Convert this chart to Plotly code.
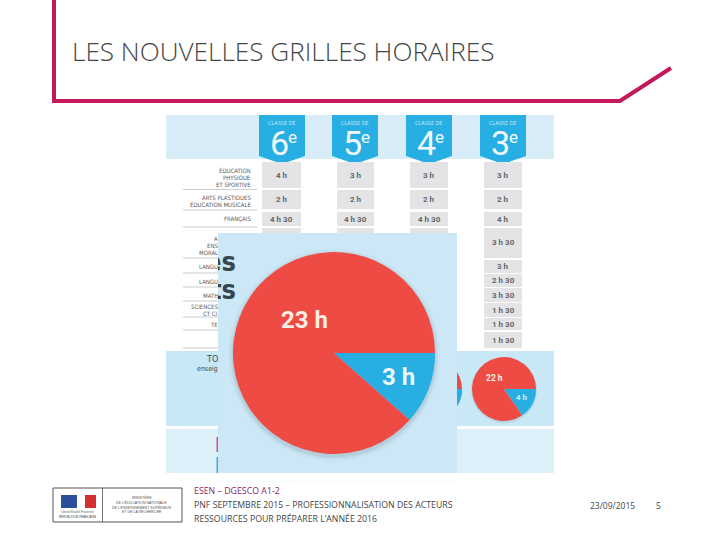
import math
import plotly.graph_objects as go

title = "LES NOUVELLES GRILLES HORAIRES"
classes = ["6", "5", "4", "3"]
main_labels = ["3 h", "23 h"]
main_values = [3, 23]
third_values = [4, 22]
small_labels = ["4 h", "22 h"]
small_values = [4, 22]
row_1 = ["4 h", "3 h", "3 h", "3 h"]
row_2 = ["2 h", "2 h", "2 h", "2 h"]
row_3 = ["4 h 30", "4 h 30", "4 h 30", "4 h"]
col_3e = ["3 h 30", "3 h", "2 h 30", "3 h 30", "1 h 30", "1 h 30", "1 h 30"]
clipped_words = ["es", "ts"]
footer_1 = "ESEN – DGESCO A1-2"
footer_2 = "PNF SEPTEMBRE 2015 – PROFESSIONNALISATION DES ACTEURS"
footer_3 = "RESSOURCES POUR PRÉPARER L’ANNÉE 2016"
footer_date = "23/09/2015"
footer_page = "5"

RED = "#ee4b45"
BLUE = "#27aee2"
PINK = "#c4185c"
PANEL = "#cce8f6"
GREY = "#e4e4e6"
COND = "DejaVu Sans Condensed"
ROB = "Roboto"


def X(v):
    return v / 720


def Y(v):
    return 1 - v / 540


shapes = []
ann = []


def rect(x0, y0, x1, y1, fill, line=None, w=1):
    shapes.append(dict(type="rect", xref="paper", yref="paper", x0=X(x0), x1=X(x1), y0=Y(y0), y1=Y(y1),
                       fillcolor=fill, line=dict(color=line or fill, width=w if line else 0), layer="below"))


def seg(pts, color, w, fill=None):
    p = "M" + " L".join(f"{X(a):.5f},{Y(b):.5f}" for a, b in pts)
    if fill:
        p += " Z"
    shapes.append(dict(type="path", xref="paper", yref="paper", path=p, layer="below",
                       fillcolor=fill or "rgba(0,0,0,0)", line=dict(color=color, width=w)))


def circle(cx, cy, r, fill, op=1):
    shapes.append(dict(type="circle", xref="paper", yref="paper", x0=X(cx - r), x1=X(cx + r), y0=Y(cy + r), y1=Y(cy - r),
                       fillcolor=fill, opacity=op, line=dict(width=0), layer="below"))


def text(x, y, s, size, color="#555b60", anchor="center", family=COND, bold=False, height=None):
    if bold:
        s = f"<b>{s}</b>"
    a = dict(xref="paper", yref="paper", x=X(x), y=Y(y), text=s, showarrow=False, xanchor=anchor, yanchor="middle",
             align=anchor, borderpad=0, borderwidth=0, font=dict(size=size, color=color, family=family))
    if height:
        a["height"] = height
    ann.append(a)


# frame
seg([(54, 0), (54, 101), (620, 101), (671, 68)], PINK, 4)
text(72, 51, title, 26.15, "#454545", "left", "Open Sans Light, Open Sans")

# infographic background
rect(166, 115, 554, 159, "#d8edf8")
rect(166, 351, 554, 426, "#c9e8f6")
rect(166, 429, 554, 473, "#ddf0fa")

badge_x = [259, 332, 406, 480]
cell_x = [(262, 301), (337, 374), (410, 448), (484, 522)]
for i, x0 in enumerate(badge_x):
    seg([(x0, 115), (x0 + 46, 115), (x0 + 46, 156), (x0 + 23, 164), (x0, 156)], BLUE, 0, BLUE)
    text(x0 + 23, 123, "CLASSE DE", 5.5, "#cdeaf7", height=6)
    text(x0 + 20, 143, classes[i], 34, "#f2fafd", family=ROB, height=26)
    text(x0 + 33.5, 136.5, "e", 17, "#f2fafd", family=ROB, height=12)

rows = [(162, 188, row_1), (190, 209, row_2), (212, 226, row_3)]
for y0, y1, vals in rows:
    for (a, b), v in zip(cell_x, vals):
        rect(a, y0, b, y1, GREY)
        text((a + b) / 2, (y0 + y1) / 2, v, 8, "#63676b", family=ROB, bold=True)
for a, b in cell_x[:3]:
    rect(a, 228, b, 240, GREY)
col_y = [(228, 258), (260, 273), (274, 287), (288, 302), (303, 317), (318, 330), (332, 348)]
for (y0, y1), v in zip(col_y, col_3e):
    rect(cell_x[3][0], y0, cell_x[3][1], y1, GREY)
    text(503, (y0 + y1) / 2, v, 8, "#63676b", family=ROB, bold=True)

for ly in [189.5, 210, 227, 258, 273, 287, 301, 317, 330, 348]:
    rect(183, ly - 0.4, 257, ly + 0.4, "#c9cbce")

text(251, 169.5, "ÉDUCATION", 6, anchor="right", height=6)
text(251, 176.5, "PHYSIQUE", 6, anchor="right", height=6)
text(251, 183.5, "ET SPORTIVE", 6, anchor="right", height=6)
text(251, 197, "ARTS PLASTIQUES", 6, anchor="right", height=6)
text(251, 204, "ÉDUCATION MUSICALE", 6, anchor="right", height=6)
text(251, 219, "FRANÇAIS", 6, anchor="right")

text(218, 238, "A", 6, anchor="right", height=6)
text(218, 245, "ENS", 6, anchor="right", height=6)
text(218, 252, "MORAL", 6, anchor="right", height=6)
text(218, 266, "LANGU", 6, anchor="right")
text(218, 281, "LANGU", 6, anchor="right")
text(218, 295, "MATH", 6, anchor="right")
text(218, 306, "SCIENCES", 6, anchor="right", height=6)
text(218, 313, "CT CI", 6, anchor="right", height=6)
text(218, 324, "TE", 6, anchor="right")
text(218, 358, "TO", 9, "#3f4a50", anchor="right", height=9)
text(218, 368, "enseig", 7, "#3f4a50", anchor="right", height=9)

# third pie: only its right edge shows past the panel
cx3, cy3, r3 = 430, 389, 32
circle(cx3, cy3, r3, RED)
a3 = third_values[0] / sum(third_values) * 2 * math.pi
n3 = 24
seg([(cx3, cy3)] + [(cx3 + r3 * math.cos(a3 * k / n3), cy3 + r3 * math.sin(a3 * k / n3)) for k in range(n3 + 1)], BLUE, 0, BLUE)

rect(216.5, 437, 218, 452, "#d9527f")
rect(216.5, 457, 218, 473, "#35b3dc")

# front panel
rect(218, 233, 457, 473, PANEL)
for d, op in [(106, 0.05), (104, 0.08), (102.5, 0.12)]:
    circle(334, 355, d, "#6f7f8a", op)
circle(504, 390, 33, "#7a8a95", 0.2)

text(304, 320, main_labels[1], 24, "#fdeee6", family=ROB, bold=True)
text(398, 377, main_labels[0], 24, "#eaf8fc", family=ROB, bold=True)
text(494, 378, small_labels[1], 8.5, "#fdeee6", family=ROB, bold=True)
text(522, 397, small_labels[0], 8, "#d8f1fa", family=ROB, bold=True)

# footer
rect(217, 481.7, 456, 482.3, "#eceff1")
rect(53, 488, 182, 522, "#ffffff", "#555555", 1)
rect(102, 488, 102.8, 522, "#555555")
rect(61, 495, 77, 508, "#2a4f9c")
rect(85, 495, 96, 508, "#d3302f")
text(77, 511, "Liberté Égalité Fraternité", 3, "#666666", family="Liberation Sans", height=4)
text(77, 516, "RÉPUBLIQUE FRANÇAISE", 3, "#444444", family="Liberation Sans", height=4)
for y_, s in zip([497, 502, 507, 512], ["MINISTÈRE", "DE L’ÉDUCATION NATIONALE,", "DE L’ENSEIGNEMENT SUPÉRIEUR", "ET DE LA RECHERCHE"]):
    text(142, y_, s, 3.6, "#555555", family="Liberation Sans", height=4)
text(194, 491, footer_1, 8.8, "#8c1d62", "left", "Open Sans", height=12)
text(194, 505, footer_2, 8.75, "#444444", "left", "Open Sans", height=12)
text(194, 519, footer_3, 8.75, "#444444", "left", "Open Sans", height=12)
text(612, 505, footer_date, 8.5, "#444444", "center", "Open Sans", height=12)
text(658, 505, footer_page, 8.5, "#444444", "center", "Open Sans", height=12)


def pie(values, cx, cy, r):
    return go.Pie(values=values, sort=False, rotation=90, direction="clockwise", textinfo="none", hoverinfo="skip",
                  marker=dict(colors=[BLUE, RED], line=dict(width=0)), showlegend=False,
                  domain=dict(x=[X(cx - r), X(cx + r)], y=[Y(cy + r), Y(cy - r)]))


# the cut-off heading words are clipped by the front panel's own plot area
clip = go.Scatter(x=[236, 236], y=[264, 292], text=clipped_words, mode="text", textposition="middle left",
                  textfont=dict(size=27, color="#37474f", family=COND, weight="bold"),
                  hoverinfo="skip", showlegend=False)

fig = go.Figure([clip, pie(main_values, 334, 353, 101), pie(small_values, 504, 389, 32)])
fig.update_layout(width=720, height=540, margin=dict(l=0, r=0, t=0, b=0), autosize=False,
                  paper_bgcolor="#ffffff", plot_bgcolor="rgba(0,0,0,0)", shapes=shapes, annotations=ann,
                  xaxis=dict(domain=[X(218), X(457)], range=[218, 457], visible=False),
                  yaxis=dict(domain=[Y(473), Y(233)], range=[473, 233], visible=False))
fig.write_html("out.html", post_script="document.body.style.margin='0';", config=dict(displayModeBar=False))
